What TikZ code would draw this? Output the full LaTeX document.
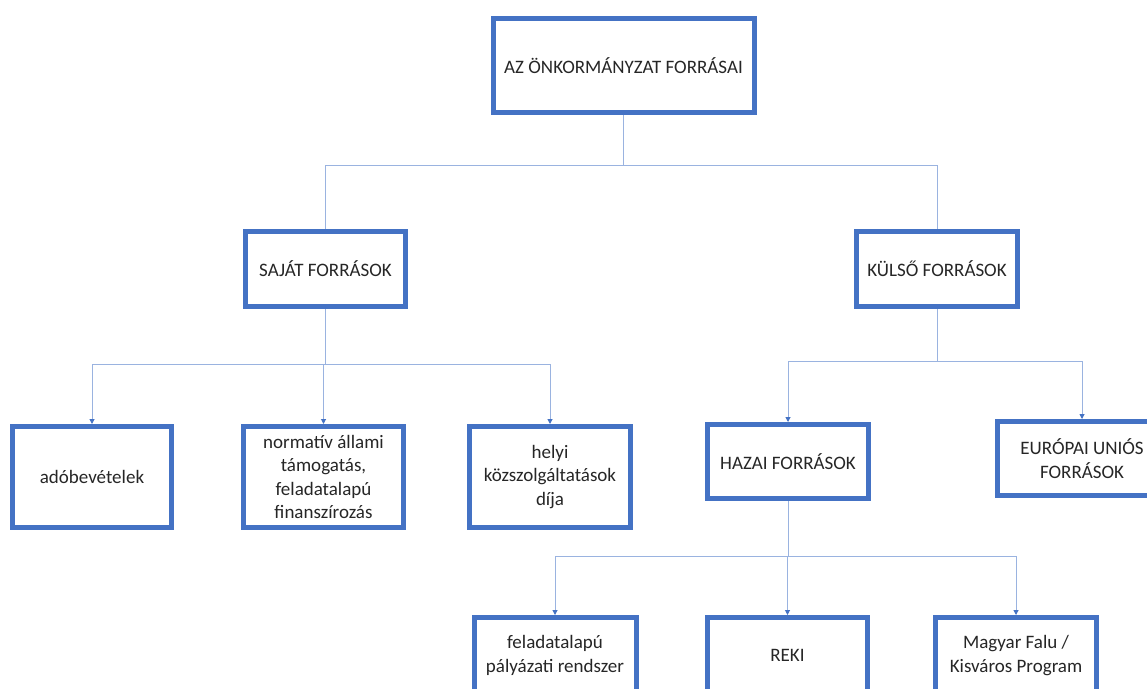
\documentclass[tikz,border=0pt]{standalone}
\usepackage{fontspec}
\setmainfont{Carlito}
\usetikzlibrary{arrows.meta}
\definecolor{boxblue}{HTML}{4472C4}
\definecolor{lineblue}{HTML}{9AB3E0}
\begin{document}
\begin{tikzpicture}[x=1pt,y=-1pt,
  box/.style={draw=boxblue, line width=5pt, fill=white, align=center,
    font=\fontsize{19}{23.5}\selectfont, text=black!85, inner sep=0pt},
  lbl/.style={font=\fontsize{19}{23.5}\selectfont, text=black!85, align=center, inner sep=0pt},
  link/.style={draw=lineblue, line width=1pt},
  arr/.style={link, -{Triangle[length=5pt,width=5pt,color=boxblue,fill=boxblue]}}]
\useasboundingbox (0,0) rectangle (1147,688);
\clip (0,0) rectangle (1147,688);
\fill[white] (0,0) rectangle (1147,688);
% level 1
\node[box, minimum width=261pt, minimum height=94pt] (top) at (623.5,65.5) {AZ ÖNKORMÁNYZAT FORRÁSAI};
% level 2
\node[box, minimum width=160pt, minimum height=75pt] (sajat) at (325.5,269) {SAJÁT FORRÁSOK};
\node[box, minimum width=161pt, minimum height=75pt] (kulso) at (937,269) {KÜLSŐ FORRÁSOK};
% level 3
\node[box, minimum width=159pt, minimum height=101pt] (ado) at (92,477) {adóbevételek};
\node[box, minimum width=160pt, minimum height=101pt] (norm) at (323.5,477) {normatív állami\\támogatás,\\feladatalapú\\finanszírozás};
\node[box, minimum width=161pt, minimum height=101pt] (helyi) at (550,477) {helyi\\közszolgáltatások\\díja};
\node[box, minimum width=161pt, minimum height=74pt] (hazai) at (788,461.5) {HAZAI FORRÁSOK};
\node[box, minimum width=169pt, minimum height=74pt] (eu) at (1082,458.5) {EURÓPAI UNIÓS\\FORRÁSOK};
% level 4
\node[box, minimum width=162pt, minimum height=100pt] (fela) at (555,667.5) {};
\node[box, minimum width=160pt, minimum height=100pt] (reki) at (787.5,667.5) {};
\node[box, minimum width=161pt, minimum height=100pt] (magy) at (1016,667.5) {};
\node[lbl] (felat) at (555,655.5) {feladatalapú\\pályázati rendszer};
\node[lbl] (rekit) at (787.5,655) {REKI};
\node[lbl] (magyt) at (1016,655.5) {Magyar Falu /\\Kisváros Program};
% connectors
\coordinate (j1) at (623.5,165);
\draw[link] (top.south) -- (j1);
\draw[link] (j1) -| (sajat.north);
\draw[link] (j1) -| (kulso.north);
\coordinate (j2) at (325.5,364);
\draw[link] (sajat.south) -- (j2);
\draw[arr] (j2) -| (ado.north);
\draw[arr] (j2) -| (norm.north);
\draw[arr] (j2) -| (helyi.north);
\coordinate (j3) at (937,361);
\draw[link] (kulso.south) -- (j3);
\draw[arr] (j3) -| (hazai.north);
\draw[arr] (j3) -| (eu.north);
\coordinate (j4) at (788,556);
\draw[link] (hazai.south) -- (j4);
\draw[arr] (j4) -| (fela.north);
\draw[arr] (j4) -| (reki.north);
\draw[arr] (j4) -| (magy.north);
\end{tikzpicture}
\end{document}
